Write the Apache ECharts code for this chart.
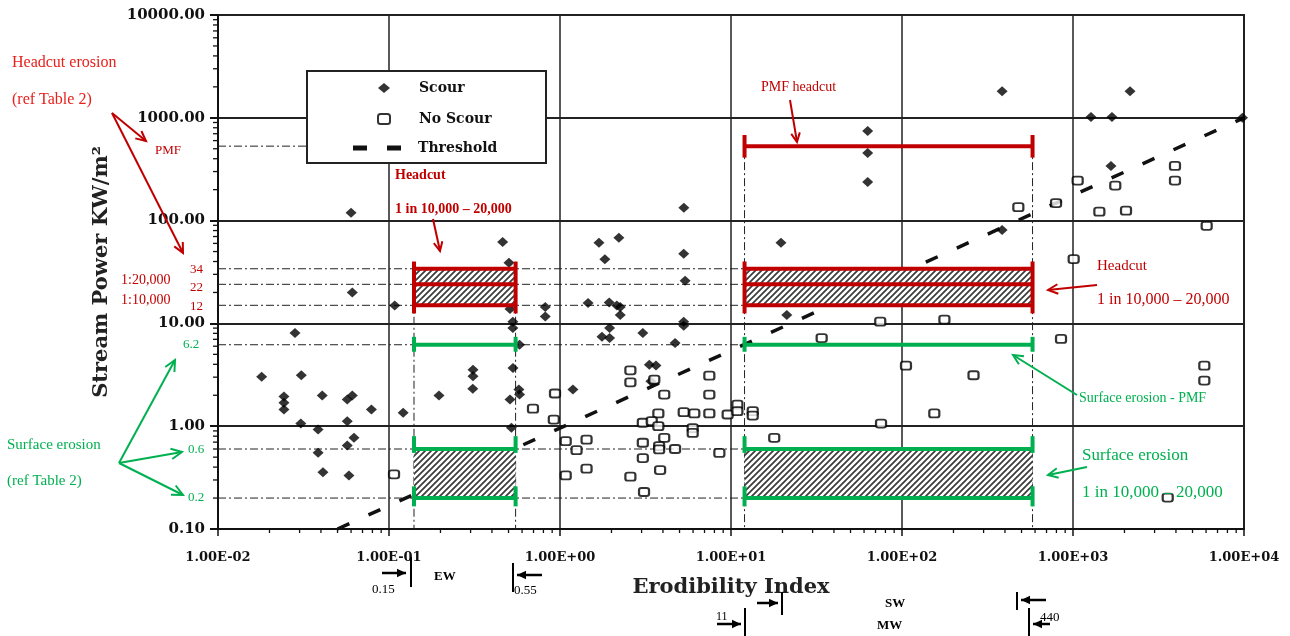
<!DOCTYPE html>
<html><head><meta charset="utf-8">
<script src="https://cdn.jsdelivr.net/npm/echarts@6/dist/echarts.min.js"></script>
<style>html,body{margin:0;padding:0;background:#fff}#c{width:1290px;height:636px}</style>
</head><body><div id="c"></div><script>
// ---- data ----
const xTickLabels = ['1.00E-02','1.00E-01','1.00E+00','1.00E+01','1.00E+02','1.00E+03','1.00E+04'];
const minorSteps = [2,3,4,5,6,7,8,9];
const scour = [
 [0.06,119],[63,743],[63,454],[63,238],[5.3,133],[385,1817],[2155,1817],[1274,1016],[1690,1016],[9800,1000],
 [1667,340],[385,81],[0.462,62],[0.503,39],[0.061,20],[0.108,14.9],[0.51,13.8],[0.82,14.4],[0.82,11.7],
 [1.46,15.8],[1.94,16],[1.69,61],[1.83,42],[2.15,14.9],[1.95,9.0],[1.95,7.2],[1.76,7.4],[2.21,68],[5.29,47.5],
 [19.6,61],[5.39,26],[2.25,14.4],[2.25,12.1],[5.29,9.5],[5.29,10.4],[3.05,8.07],[4.71,6.45],[21.2,12.1],
 [3.33,3.97],[3.64,3.9],[3.4,2.73],[0.0282,8.07],[0.018,3.02],[0.0307,3.13],[0.0243,1.95],[0.0243,1.69],
 [0.0243,1.45],[0.0407,1.99],[0.057,1.82],[0.061,1.99],[0.0789,1.45],[0.0305,1.06],[0.0385,0.93],[0.057,1.12],
 [0.0624,0.771],[0.057,0.65],[0.0385,0.552],[0.0411,0.357],[0.0583,0.332],[0.121,1.35],[0.196,1.99],
 [0.31,3.55],[0.31,3.06],[0.309,2.31],[0.51,1.82],[0.531,3.69],[0.575,2.27],[0.58,2.03],[0.58,6.21],
 [0.53,10.4],[0.53,9.0],[0.52,0.964],[1.19,2.27]
];
const noScour = [
 [2.58,3.5],[2.58,2.67],[3.56,2.84],[7.47,3.1],[4.07,2.03],[7.47,2.03],[3.76,1.33],[5.29,1.37],[6.1,1.33],
 [7.47,1.33],[9.56,1.3],[10.9,1.62],[10.9,1.4],[13.4,1.4],[13.4,1.27],[3.05,1.08],[3.44,1.12],[3.76,1.0],
 [5.97,0.96],[5.97,0.86],[4.07,0.77],[3.05,0.69],[3.8,0.64],[3.8,0.594],[4.71,0.6],[8.55,0.55],[3.05,0.49],
 [3.85,0.374],[2.58,0.323],[3.1,0.229],[17.9,0.77],[74.6,10.4],[177,10.9],[33.9,7.2],[105.5,3.88],[262,3.13],
 [154.5,1.33],[75.4,1.06],[0.935,2.08],[0.695,1.48],[0.92,1.16],[1.08,0.715],[1.43,0.74],[1.25,0.585],
 [1.43,0.386],[1.08,0.332],[0.107,0.34],[479,135],[796,148],[1065,245],[1767,219],[1426,122],[2042,125],
 [3948,340],[3948,245],[6050,89],[1009,42.2],[851,7.06],[5860,3.88],[5860,2.78],[3580,0.202]
];
const threshold = [[0.05,0.1],[10000,1000]];
const ewRange = [0.14, 0.55];
const swmwRange = [12, 580];
const headcutLevels = [15, 24, 34];
const headcutCap = [12.5, 40];
const pmfHeadcut = 530;
const pmfCap = [410, 680];
const surfacePmf = 6.2;
const surfacePmfCap = [5.3, 7.4];
const surfaceLevels = [0.2, 0.6];
const surfaceCaps = [[0.166, 0.26], [0.55, 0.8]];

// ---- derived segment tables ----
const ranges = [ewRange, swmwRange];
const redSegs = [], greenSegs = [], redRects = [], greenRects = [], guideSegs = [];
ranges.forEach(r => {
  headcutLevels.forEach(v => redSegs.push([r[0], v, r[1], v]));
  redSegs.push([r[0], headcutCap[0], r[0], headcutCap[1]]);
  redSegs.push([r[1], headcutCap[0], r[1], headcutCap[1]]);
  redRects.push([r[0], headcutLevels[0], r[1], headcutLevels[2]]);
  greenSegs.push([r[0], surfacePmf, r[1], surfacePmf]);
  greenSegs.push([r[0], surfacePmfCap[0], r[0], surfacePmfCap[1]]);
  greenSegs.push([r[1], surfacePmfCap[0], r[1], surfacePmfCap[1]]);
  surfaceLevels.forEach((v, i) => {
    greenSegs.push([r[0], v, r[1], v]);
    greenSegs.push([r[0], surfaceCaps[i][0], r[0], surfaceCaps[i][1]]);
    greenSegs.push([r[1], surfaceCaps[i][0], r[1], surfaceCaps[i][1]]);
  });
  greenRects.push([r[0], surfaceLevels[0], r[1], surfaceLevels[1]]);
});
redSegs.push([swmwRange[0], pmfHeadcut, swmwRange[1], pmfHeadcut]);
redSegs.push([swmwRange[0], pmfCap[0], swmwRange[0], pmfCap[1]]);
redSegs.push([swmwRange[1], pmfCap[0], swmwRange[1], pmfCap[1]]);
headcutLevels.concat([surfacePmf], surfaceLevels).forEach(v => guideSegs.push([0.01, v, swmwRange[0], v]));
guideSegs.push([0.01, pmfHeadcut, 0.3, pmfHeadcut]);
ewRange.forEach(x => guideSegs.push([x, headcutLevels[2], x, 0.1]));
swmwRange.forEach(x => guideSegs.push([x, pmfHeadcut, x, 0.1]));
// minor log ticks (axis decoration)
const yMinor = [], xMinor = [];
for (let e = -1; e < 4; e++) minorSteps.forEach(s => yMinor.push([0.01, s * Math.pow(10, e)]));
for (let e = -2; e < 4; e++) minorSteps.forEach(s => xMinor.push([s * Math.pow(10, e), 0.1]));

function hatchCanvas() {
  const c = document.createElement('canvas'); c.width = 6; c.height = 6;
  const g = c.getContext('2d'); g.fillStyle = '#fff'; g.fillRect(0,0,6,6);
  g.strokeStyle = '#3a3a3a'; g.lineWidth = 1.7; g.beginPath();
  g.moveTo(0,6); g.lineTo(6,0); g.moveTo(-1,1); g.lineTo(1,-1); g.moveTo(5,7); g.lineTo(7,5); g.stroke();
  return c;
}
const hatch = {image: hatchCanvas(), repeat: 'repeat'};

function segSeries(data, color, width, dash, z) {
  return {type:'custom', data, z, silent:true, encode:{x:[0,2], y:[1,3]},
    renderItem(p, api) {
      const a = api.coord([api.value(0), api.value(1)]), b = api.coord([api.value(2), api.value(3)]);
      return {type:'line', shape:{x1:a[0], y1:a[1], x2:b[0], y2:b[1]},
        style:{stroke:color, lineWidth:width, lineDash:dash || null}};
    }};
}
function rectSeries(data, z) {
  return {type:'custom', data, z, silent:true, encode:{x:[0,2], y:[1,3]},
    renderItem(p, api) {
      const a = api.coord([api.value(0), api.value(1)]), b = api.coord([api.value(2), api.value(3)]);
      return {type:'rect', shape:{x:Math.min(a[0],b[0]), y:Math.min(a[1],b[1]),
        width:Math.abs(b[0]-a[0]), height:Math.abs(b[1]-a[1])}, style:{fill:hatch}};
    }};
}
function tickSeries(data, dx, dy) {
  return {type:'custom', data, z:8, silent:true, clip:false,
    renderItem(p, api) {
      const a = api.coord([api.value(0), api.value(1)]);
      return {type:'line', shape:{x1:a[0], y1:a[1], x2:a[0] + dx, y2:a[1] + dy},
        style:{stroke:'#111', lineWidth:1.3}};
    }};
}

// ---- annotation helpers ----
const RED = '#c00000', BRED = '#e8201c', GREEN = '#00b050';
const SERIF = '"Liberation Serif", "Times New Roman", serif';
function txt(text, x, y, fill, size, opts) {
  opts = opts || {};
  return {type:'text', z:50, style:{text, x, y, fill, font:(opts.bold?'bold ':'') + size + 'px ' + (opts.family || SERIF),
    textAlign: opts.align || 'left', textVerticalAlign:'middle'}};
}
function arrow(x1, y1, x2, y2, color, w, head, filled) {
  const ang = Math.atan2(y2 - y1, x2 - x1), a1 = ang + Math.PI - 0.45, a2 = ang + Math.PI + 0.45;
  const p1 = [x2 + head*Math.cos(a1), y2 + head*Math.sin(a1)], p2 = [x2 + head*Math.cos(a2), y2 + head*Math.sin(a2)];
  const els = [{type:'line', z:50, shape:{x1, y1, x2, y2}, style:{stroke:color, lineWidth:w}}];
  if (filled) els.push({type:'polygon', z:50, shape:{points:[[x2,y2],p1,p2]}, style:{fill:color}});
  else els.push({type:'polyline', z:50, shape:{points:[p1,[x2,y2],p2]}, style:{stroke:color, lineWidth:w, fill:null}});
  return els;
}
function vbar(x, y1, y2) { return {type:'line', z:50, shape:{x1:x, y1, x2:x, y2}, style:{stroke:'#000', lineWidth:2}}; }

const graphics = [].concat(
  [{type:'rect', z:15, shape:{x:307, y:71, width:239, height:92}, style:{fill:'#fff', stroke:'#222', lineWidth:2}}],
  [txt('Headcut erosion', 12, 63, BRED, 16), txt('(ref Table 2)', 12, 100, BRED, 16)],
  arrow(112, 113, 146, 141, RED, 2, 11), arrow(112, 113, 183, 253, RED, 2, 11),
  [txt('PMF', 155, 151, RED, 13), txt('1:20,000', 121, 280, RED, 14), txt('1:10,000', 121, 300, RED, 14),
   txt('34', 203, 270, RED, 13, {align:'right'}), txt('22', 203, 288, RED, 13, {align:'right'}),
   txt('12', 203, 307, RED, 13, {align:'right'})],
  [txt('Surface erosion', 7, 445, GREEN, 15), txt('(ref Table 2)', 7, 481, GREEN, 15),
   txt('6.2', 183, 345, GREEN, 13), txt('0.6', 188, 450, GREEN, 13), txt('0.2', 188, 498, GREEN, 13)],
  arrow(119, 463, 175, 360, GREEN, 2, 12), arrow(119, 463, 182, 452, GREEN, 2, 12), arrow(119, 463, 183, 495, GREEN, 2, 12),
  [txt('Headcut', 395, 175, RED, 14, {bold:true}), txt('1 in 10,000 \u2013 20,000', 395, 209, RED, 14, {bold:true})],
  arrow(433, 219, 440, 251, RED, 2, 10),
  [txt('PMF headcut', 761, 87, RED, 14)], arrow(790, 100, 797, 142, RED, 2, 10),
  [txt('Headcut', 1097, 266, RED, 15), txt('1 in 10,000 \u2013 20,000', 1097, 300, RED, 16)],
  arrow(1097, 285, 1048, 290, RED, 2, 11),
  [txt('Surface erosion - PMF', 1079, 398, GREEN, 14)], arrow(1077, 395, 1013, 355, GREEN, 2, 11),
  [txt('Surface erosion', 1082, 456, GREEN, 17), txt('1 in 10,000 \u2013 20,000', 1082, 493, GREEN, 17)],
  arrow(1087, 467, 1048, 475, GREEN, 2, 11),
  // bottom range markers
  [vbar(411, 557, 587), vbar(513, 563, 592), vbar(782, 592, 615), vbar(745, 608, 636), vbar(1017, 592, 610), vbar(1029, 608, 636)],
  arrow(382, 573, 406, 573, '#000', 2.5, 10, true), arrow(542, 575, 517, 575, '#000', 2.5, 10, true),
  arrow(757, 603, 778, 603, '#000', 2.5, 10, true), arrow(717, 624, 741, 624, '#000', 2.5, 10, true),
  arrow(1046, 600, 1021, 600, '#000', 2.5, 10, true), arrow(1050, 624, 1033, 624, '#000', 2.5, 10, true),
  [txt('0.15', 372, 590, '#000', 13), txt('EW', 434, 577, '#000', 13, {bold:true}), txt('0.55', 514, 591, '#000', 13),
   txt('11', 716, 617, '#000', 12), txt('SW', 885, 604, '#000', 13, {bold:true}), txt('MW', 877, 626, '#000', 13, {bold:true}),
   txt('440', 1040, 618, '#000', 13)]
);

const AXFONT = '"DejaVu Serif", serif';
const legendText = {fontFamily:AXFONT, fontWeight:'bold', fontSize:14, color:'#111', lineHeight:16};
const chart = echarts.init(document.getElementById('c'), null, {renderer:'canvas'});
chart.setOption({
  animation:false,
  backgroundColor:'#fff',
  grid:{left:218, right:46, top:15, bottom:107, show:true, borderColor:'#222', borderWidth:2},
  legend:[
    {data:['Scour','No Scour'], orient:'vertical', left:377, top:80, padding:0, z:20,
      itemWidth:12, itemHeight:10, itemGap:15, selectedMode:false,
      textStyle:Object.assign({padding:[0,0,0,24]}, legendText)},
    {data:[{name:'Threshold', icon:'path://M0,0h14v5h-14z M34,0h14v5h-14z'}], left:353, top:140, padding:0, z:20,
      itemWidth:48, itemHeight:5, selectedMode:false,
      textStyle:Object.assign({padding:[0,0,0,12]}, legendText)}
  ],
  xAxis:{type:'log', logBase:10, min:0.01, max:10000,
    name:'Erodibility Index', nameLocation:'middle', nameGap:48,
    nameTextStyle:{fontFamily:AXFONT, fontWeight:'bold', fontSize:21, color:'#222'},
    axisLine:{lineStyle:{color:'#111', width:2}},
    axisTick:{show:true, length:7, lineStyle:{color:'#111', width:1.5}},
    axisLabel:{margin:22, fontFamily:AXFONT, fontWeight:'bold', fontSize:13, color:'#111',
      formatter:v => xTickLabels[Math.round(Math.log10(v)) + 2]},
    splitLine:{show:true, lineStyle:{color:'#222', width:1.5}}},
  yAxis:{type:'log', logBase:10, min:0.1, max:10000,
    name:'Stream Power KW/m\u00b2', nameLocation:'middle', nameGap:106,
    nameTextStyle:{fontFamily:AXFONT, fontWeight:'bold', fontSize:21, color:'#222'},
    axisLine:{lineStyle:{color:'#111', width:2}},
    axisTick:{show:true, length:8, lineStyle:{color:'#111', width:2}},
    axisLabel:{margin:13, fontFamily:AXFONT, fontWeight:'bold', fontSize:15, color:'#111',
      formatter:v => v.toFixed(2)},
    splitLine:{show:true, lineStyle:{color:'#222', width:2}}},
  series:[
    segSeries(guideSegs, '#222', 1, [8,3,2,3], 2),
    rectSeries(redRects, 4), rectSeries(greenRects, 4),
    tickSeries(yMinor, -5, 0), tickSeries(xMinor, 0, 4),
    {name:'Threshold', type:'line', data:threshold, symbol:'none', z:3, silent:true,
      lineStyle:{color:'#111', width:3.5, type:[13,21]}, itemStyle:{color:'#111'}},
    {name:'Scour', type:'scatter', data:scour, symbol:'diamond', symbolSize:[11,10], z:6,
      itemStyle:{color:'#000'}},
    {name:'No Scour', type:'scatter', data:noScour, symbol:'roundRect', symbolSize:[10,8], z:6,
      itemStyle:{color:'#fff', borderColor:'#000', borderWidth:2}},
    segSeries(redSegs, '#c00000', 4, null, 7),
    segSeries(greenSegs, '#00b050', 4, null, 7)
  ],
  graphic:graphics
});
</script></body></html>
